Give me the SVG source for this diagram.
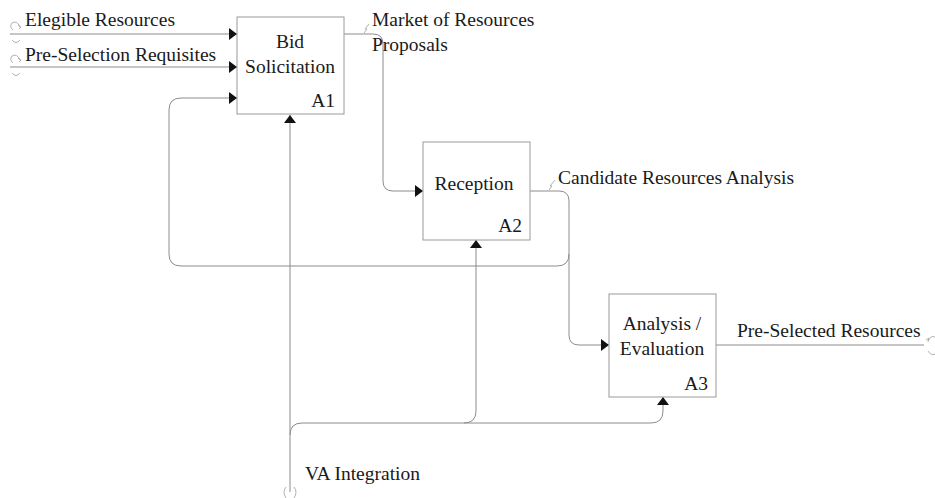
<svg xmlns="http://www.w3.org/2000/svg" width="935" height="498" viewBox="0 0 935 498">
  <style>
    .box { fill: #ffffff; stroke: #9a9a9a; stroke-width: 1; }
    .lbl { font-family: "Liberation Serif", "Times New Roman", serif; font-size: 19.5px; fill: #1a1a1a; }
    .mid { text-anchor: middle; }
    .end { text-anchor: end; }
    .wire { fill: none; stroke: #8c8c8c; stroke-width: 1; }
    .tick { fill: none; stroke: #a8a8a8; stroke-width: 0.9; }
    .head { fill: #111111; }
  </style>
  <defs>
    <polygon id="headR" class="head" points="0,0 -8,-6 -8,6"/>
    <polygon id="headU" class="head" points="0,0 -6,8 6,8"/>
  </defs>
  <rect width="935" height="498" fill="#ffffff"/>

  <g id="connectors">
    <!-- inputs to A1 -->
    <path class="wire" d="M10,34 H237"/>
    <path class="wire" d="M10,67 H237"/>
    <!-- A1 output to A2 input -->
    <path class="wire" d="M344,34 H373 Q383,34 383,44 V181 Q383,191 393,191 H423"/>
    <!-- A2 output to A3 input -->
    <path class="wire" d="M530,191 H559 Q569,191 569,201 V335 Q569,345 579,345 H609"/>
    <!-- feedback from A2 output to A1 -->
    <path class="wire" d="M569,254 Q569,266 557,266 H181 Q169,266 169,254 V110 Q169,98 181,98 H237"/>
    <!-- A3 output -->
    <path class="wire" d="M716,345 H924"/>
    <!-- controls -->
    <path class="wire" d="M290,492 V115"/>
    <path class="wire" d="M290,435 Q290,423 302,423 H651 Q663,423 663,411 V397"/>
    <path class="wire" d="M464,423 Q476,423 476,411 V240"/>
    <!-- arrowheads -->
    <use href="#headR" x="237" y="34"/>
    <use href="#headR" x="237" y="67"/>
    <use href="#headR" x="237" y="98"/>
    <use href="#headR" x="423" y="191"/>
    <use href="#headR" x="609" y="345"/>
    <use href="#headU" x="290" y="115"/>
    <use href="#headU" x="476" y="240"/>
    <use href="#headU" x="663" y="397"/>
    <!-- label leaders -->
    <path class="tick" d="M364,33 L367,29 L365,29 L369,24"/>
    <path class="tick" d="M549,190 L552,186 L550,186 L555,180"/>
    <!-- tunnel marks -->
    <path class="tick" d="M20,27 Q17,20 12,23 Q9,27 13,30 M18,25 L21,27 L19,29"/>
    <path class="tick" d="M12,40 Q16,45 20,40"/>
    <path class="tick" d="M20,60 Q17,53 12,56 Q9,60 13,63 M18,58 L21,60 L19,62"/>
    <path class="tick" d="M12,73 Q16,78 20,73"/>
    <path class="tick" d="M928,341 Q931,335 935,337 M926,340 L929,338 L928,342"/>
    <path class="tick" d="M928,351 Q931,356 935,354"/>
    <path class="tick" d="M286,487 Q282,492 286,498 M294,487 Q298,492 294,498"/>
  </g>

  <g id="a1">
    <rect class="box" x="237" y="17" width="107" height="97"/>
    <text class="lbl mid" x="290" y="48">Bid</text>
    <text class="lbl mid" x="290" y="73">Solicitation</text>
    <text class="lbl end" x="335" y="107">A1</text>
  </g>

  <g id="a2">
    <rect class="box" x="423" y="142" width="107" height="98"/>
    <text class="lbl mid" x="474" y="190">Reception</text>
    <text class="lbl end" x="522" y="232">A2</text>
  </g>

  <g id="a3">
    <rect class="box" x="609" y="294" width="107" height="103"/>
    <text class="lbl mid" x="662" y="330">Analysis /</text>
    <text class="lbl mid" x="662" y="355">Evaluation</text>
    <text class="lbl end" x="708" y="390">A3</text>
  </g>

  <g id="labels">
    <text class="lbl" x="25" y="26">Elegible Resources</text>
    <text class="lbl" x="25" y="61">Pre-Selection Requisites</text>
    <text class="lbl" x="372" y="26">Market of Resources</text>
    <text class="lbl" x="372" y="51">Proposals</text>
    <text class="lbl" x="558" y="184">Candidate Resources Analysis</text>
    <text class="lbl" x="737" y="337">Pre-Selected Resources</text>
    <text class="lbl" x="305" y="480">VA Integration</text>
  </g>
</svg>
